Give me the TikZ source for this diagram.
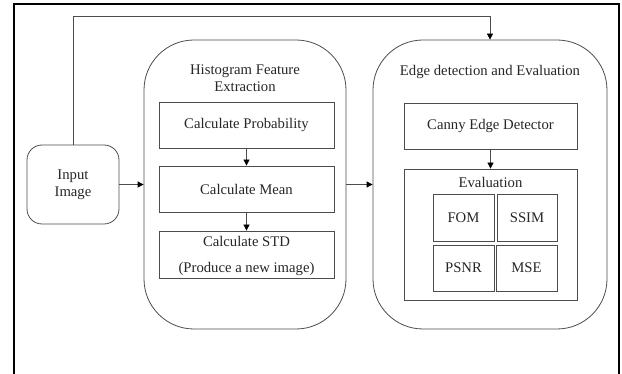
\documentclass[tikz,border=0pt]{standalone}
\usepackage{fontspec}
\setmainfont{Liberation Serif}
\usetikzlibrary{arrows.meta}
\begin{document}
\begin{tikzpicture}[x=1pt,y=-1pt,
  line/.style={draw=black!70, line width=0.8pt},
  arr/.style={line, -{Triangle[length=6pt,width=6pt,color=black]}},
  box/.style={line, rectangle, inner sep=0pt, align=center, font=\fontsize{14.7}{17}\selectfont, text=black!85},
  bigbox/.style={line, rounded corners=50pt, inner sep=0pt},
  lbl/.style={inner sep=0pt, align=center, font=\fontsize{14.7}{17}\selectfont, text=black!85}
]
\useasboundingbox (0,0) rectangle (622,374);
% page frame
\draw[black, line width=1.2pt] (14,374) -- (14,4) -- (619,4) -- (619,374);

% input
\node[line, rounded corners=15pt, minimum width=92pt, minimum height=79pt, align=center, inner sep=0pt,
      font=\fontsize{14.7}{17}\selectfont, text=black!85] (input) at (73,184.5) {Input\\Image};

% histogram feature extraction group
\node[bigbox, minimum width=202pt, minimum height=289pt] (hist) at (245,184.5) {};
\node[lbl] (histt) at (245,78.5) {Histogram Feature\\Extraction};
\node[box, minimum width=175pt, minimum height=46pt] (prob) at (246.5,125) {Calculate Probability};
\node[box, minimum width=175pt, minimum height=46pt] (mean) at (246.5,189) {Calculate Mean};
\node[box, minimum width=175pt, minimum height=47pt] (std) at (246.5,254.5) {};
\node[lbl] (stdt) at (246.5,241) {Calculate STD};
\node[lbl] (stdn) at (246.5,269) {(Produce a new image)};

% edge detection and evaluation group
\node[bigbox, minimum width=234pt, minimum height=289pt] (edge) at (490,184.5) {};
\node[lbl] (edget) at (490,72) {Edge detection and Evaluation};
\node[box, minimum width=173pt, minimum height=46pt] (canny) at (490.5,126) {Canny Edge Detector};
\node[box, minimum width=173pt, minimum height=131pt] (eval) at (490.5,234.5) {};
\node[lbl] (evalt) at (490.5,182) {Evaluation};
\node[box, minimum width=61pt, minimum height=47pt] (fom) at (463.5,217.5) {FOM};
\node[box, minimum width=60pt, minimum height=47pt] (ssim) at (527,217.5) {SSIM};
\node[box, minimum width=61pt, minimum height=46pt] (psnr) at (463.5,268) {PSNR};
\node[box, minimum width=61pt, minimum height=46pt] (mse) at (526.5,268) {MSE};

% connectors
\draw[arr] (input) -- (hist);
\draw[arr] (hist) -- (edge);
\draw[arr] (prob) -- (mean);
\draw[arr] (mean) -- (std);
\draw[arr] (canny) -- (eval);
\coordinate (c1) at (73,16);
\coordinate (c2) at (490,16);
\draw[arr] (input.north) -- (c1) -- (c2) -- (edge.north);
\end{tikzpicture}
\end{document}
